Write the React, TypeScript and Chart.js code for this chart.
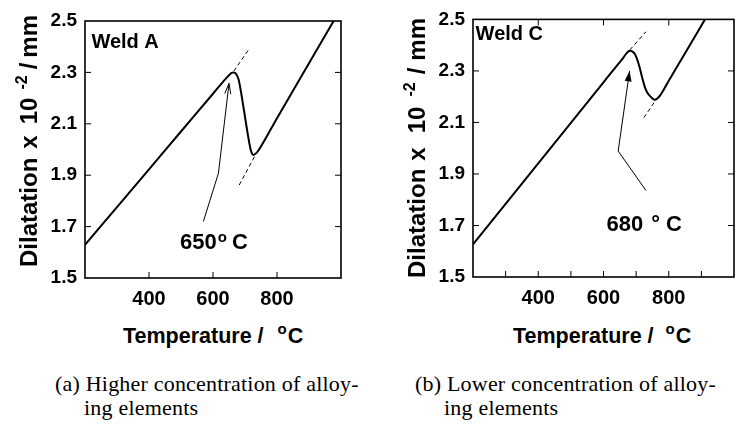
import React, { useEffect, useRef } from 'react';
import { Chart, registerables } from 'chart.js';

Chart.register(...registerables);

const SANS = "'Liberation Sans', Arial, Helvetica, sans-serif";
const SERIF = "'Liberation Serif', 'Times New Roman', serif";

// Temperature axis (°C) and dilatation axis (×10⁻² mm)
const tempMin = 200;
const tempMax = 1000;
const tempLabels = [400, 600, 800];
const dilMin = 1.5;
const dilMax = 2.5;
const dilStep = 0.2;

// Weld A: heating curve
const weldATemp = [200, 300, 400, 500, 600, 640, 650, 658, 665, 672, 680, 690, 700, 710, 718, 726, 736, 746, 800, 900, 977];
const weldADil = [1.629, 1.776, 1.923, 2.07, 2.217, 2.276, 2.289, 2.298, 2.3, 2.294, 2.272, 2.205, 2.127, 2.05, 1.998, 1.979, 1.987, 2.004, 2.122, 2.336, 2.5];
// Weld A: tangents extended from the linear parts
const weldAUpperTanT = [665, 710];
const weldAUpperTanD = [2.305, 2.386];
const weldALowerTanT = [682, 731];
const weldALowerTanD = [1.862, 1.975];
// Weld A: pointer to the transformation start
const weldAStart = 650;
const weldAArrowT = [570, 617, weldAStart];
const weldAArrowD = [1.72, 1.908, 2.257];

// Weld C: heating curve
const weldCTemp = [200, 300, 400, 500, 600, 640, 660, 671, 681, 690, 697, 704, 711, 719, 727, 735, 742, 750, 757, 765, 773, 800, 850, 911];
const weldCDil = [1.627, 1.784, 1.941, 2.098, 2.256, 2.319, 2.35, 2.369, 2.378, 2.374, 2.364, 2.342, 2.312, 2.272, 2.236, 2.214, 2.203, 2.193, 2.188, 2.193, 2.204, 2.262, 2.369, 2.5];
const weldCUpperTanT = [681, 730];
const weldCUpperTanD = [2.382, 2.452];
const weldCLowerTanT = [724, 763];
const weldCLowerTanD = [2.119, 2.192];
const weldCStart = 680;
const weldCArrowT = [730, 645, weldCStart];
const weldCArrowD = [1.836, 1.989, 2.3];

const zip = (xs: number[], ys: number[]) => xs.map((x, i) => ({ x, y: ys[i] }));

type PanelSpec = {
  name: string;
  temp: number[];
  dil: number[];
  upT: number[];
  upD: number[];
  loT: number[];
  loD: number[];
  arT: number[];
  arD: number[];
  filledHead: boolean;
  startTemp: number;
  tempLabel: { x: number; y: number; gap1: number; gap2: number; degree: string };
  nameAt: { x: number; y: number };
  bottomTicks: number[];
  topTicks: number[];
  width: number;
  height: number;
  padTop: number;
  padRight: number;
  yAxisW: number;
  xAxisH: number;
};

// Frame, inward tick marks, arrow head and text annotations
const decorPlugin = {
  id: 'decor',
  afterDatasetsDraw(chart: any, _args: any, opts: any) {
    const { ctx, chartArea: a } = chart;
    const xs = chart.scales.x;
    const ys = chart.scales.y;
    const spec: PanelSpec = opts.spec;
    ctx.save();
    ctx.strokeStyle = '#000';
    ctx.fillStyle = '#000';

    ctx.lineWidth = 1.6;
    ctx.strokeRect(a.left, a.top, a.right - a.left, a.bottom - a.top);

    const L = 6;
    ctx.lineWidth = 1;
    ctx.beginPath();
    for (const v of spec.bottomTicks) {
      const px = xs.getPixelForValue(v);
      ctx.moveTo(px, a.bottom);
      ctx.lineTo(px, a.bottom - L);
    }
    for (const v of spec.topTicks) {
      const px = xs.getPixelForValue(v);
      ctx.moveTo(px, a.top);
      ctx.lineTo(px, a.top + L);
    }
    for (let v = dilMin + dilStep; v < dilMax - 1e-6; v += dilStep) {
      const py = ys.getPixelForValue(v);
      ctx.moveTo(a.left, py);
      ctx.lineTo(a.left + L, py);
      ctx.moveTo(a.right, py);
      ctx.lineTo(a.right - L, py);
    }
    ctx.stroke();

    // arrow head at the end of the pointer line
    const n = spec.arT.length;
    const tx = xs.getPixelForValue(spec.arT[n - 1]);
    const ty = ys.getPixelForValue(spec.arD[n - 1]);
    const fx = xs.getPixelForValue(spec.arT[n - 2]);
    const fy = ys.getPixelForValue(spec.arD[n - 2]);
    const ang = Math.atan2(ty - fy, tx - fx);
    const len = 11;
    const hw = spec.filledHead ? 0.32 : 0.28;
    const p1 = [tx - len * Math.cos(ang - hw), ty - len * Math.sin(ang - hw)];
    const p2 = [tx - len * Math.cos(ang + hw), ty - len * Math.sin(ang + hw)];
    ctx.beginPath();
    if (spec.filledHead) {
      ctx.moveTo(tx, ty);
      ctx.lineTo(p1[0], p1[1]);
      ctx.lineTo(p2[0], p2[1]);
      ctx.closePath();
      ctx.fill();
    } else {
      ctx.moveTo(p1[0], p1[1]);
      ctx.lineTo(tx, ty);
      ctx.lineTo(p2[0], p2[1]);
      ctx.stroke();
    }

    // weld name
    ctx.textBaseline = 'alphabetic';
    ctx.textAlign = 'left';
    ctx.font = `bold 20px ${SANS}`;
    ctx.fillText(spec.name, xs.getPixelForValue(spec.nameAt.x), ys.getPixelForValue(spec.nameAt.y));

    // transformation start temperature
    const tl = spec.tempLabel;
    let lx = xs.getPixelForValue(tl.x);
    const ly = ys.getPixelForValue(tl.y);
    ctx.font = `bold 22px ${SANS}`;
    const num = String(spec.startTemp);
    ctx.fillText(num, lx, ly);
    lx += ctx.measureText(num).width + tl.gap1;
    if (tl.degree === 'o') {
      ctx.font = `bold 15px ${SANS}`;
      ctx.fillText('o', lx, ly - 7);
      lx += ctx.measureText('o').width + tl.gap2;
    } else {
      ctx.font = `bold 22px ${SANS}`;
      ctx.fillText('°', lx, ly);
      lx += ctx.measureText('°').width + tl.gap2;
    }
    ctx.font = `bold 22px ${SANS}`;
    ctx.fillText('C', lx, ly);
    ctx.restore();
  },
};

function Panel({ spec, left }: { spec: PanelSpec; left: number }) {
  const ref = useRef<HTMLCanvasElement | null>(null);
  useEffect(() => {
    if (!ref.current) return;
    const lineDs = (xs: number[], ys: number[], extra: any) => ({
      data: zip(xs, ys),
      borderColor: '#000',
      backgroundColor: '#000',
      pointRadius: 0,
      fill: false,
      ...extra,
    });
    const tickFont = (size: number) => ({ family: SANS, size, weight: 'bold' as const });
    const chart = new Chart(ref.current, {
      type: 'line',
      data: {
        datasets: [
          lineDs(spec.temp, spec.dil, { borderWidth: 2, cubicInterpolationMode: 'monotone' }),
          lineDs(spec.upT, spec.upD, { borderWidth: 1, borderDash: [4, 3], tension: 0 }),
          lineDs(spec.loT, spec.loD, { borderWidth: 1, borderDash: [4, 3], tension: 0 }),
          lineDs(spec.arT, spec.arD, { borderWidth: 1, tension: 0 }),
        ],
      },
      options: {
        responsive: false,
        animation: false,
        devicePixelRatio: 1,
        events: [],
        layout: { padding: { left: 0, top: spec.padTop, right: spec.padRight, bottom: 0 } },
        plugins: {
          legend: { display: false },
          tooltip: { enabled: false },
          decor: { spec },
        } as any,
        scales: {
          x: {
            type: 'linear',
            min: tempMin,
            max: tempMax,
            afterFit: (s: any) => {
              s.height = spec.xAxisH;
            },
            grid: { display: false, drawTicks: false },
            border: { display: false },
            ticks: {
              stepSize: 100,
              autoSkip: false,
              maxRotation: 0,
              padding: 9,
              color: '#000',
              font: tickFont(20),
              callback: (v: any) => (tempLabels.includes(Number(v)) ? String(v) : ''),
            },
          },
          y: {
            type: 'linear',
            min: dilMin,
            max: dilMax,
            afterFit: (s: any) => {
              s.width = spec.yAxisW;
            },
            grid: { display: false, drawTicks: false },
            border: { display: false },
            ticks: {
              stepSize: dilStep,
              padding: 8,
              color: '#000',
              font: tickFont(19),
              callback: (v: any) => Number(v).toFixed(1),
            },
          },
        },
      },
      plugins: [decorPlugin as any],
    });
    return () => chart.destroy();
  }, [spec]);
  return (
    <canvas
      ref={ref}
      width={spec.width}
      height={spec.height}
      style={{ position: 'absolute', left, top: 0, width: spec.width, height: spec.height }}
    />
  );
}

const specA: PanelSpec = {
  name: 'Weld A',
  temp: weldATemp,
  dil: weldADil,
  upT: weldAUpperTanT,
  upD: weldAUpperTanD,
  loT: weldALowerTanT,
  loD: weldALowerTanD,
  arT: weldAArrowT,
  arD: weldAArrowD,
  filledHead: false,
  startTemp: weldAStart,
  tempLabel: { x: 497, y: 1.612, gap1: 1, gap2: 5, degree: 'o' },
  nameAt: { x: 220, y: 2.395 },
  bottomTicks: [400, 600, 800],
  topTicks: [],
  width: 370,
  height: 312,
  padTop: 21,
  padRight: 29,
  yAxisW: 85,
  xAxisH: 34,
};

const specC: PanelSpec = {
  name: 'Weld C',
  temp: weldCTemp,
  dil: weldCDil,
  upT: weldCUpperTanT,
  upD: weldCUpperTanD,
  loT: weldCLowerTanT,
  loD: weldCLowerTanD,
  arT: weldCArrowT,
  arD: weldCArrowD,
  filledHead: true,
  startTemp: weldCStart,
  tempLabel: { x: 609, y: 1.68, gap1: 8, gap2: 6, degree: '°' },
  nameAt: { x: 208, y: 2.42 },
  bottomTicks: [300, 400, 500, 600, 700, 800, 900],
  topTicks: [400, 600, 800],
  width: 373,
  height: 312,
  padTop: 14,
  padRight: 9,
  yAxisW: 103,
  xAxisH: 35,
};

const boldSans: React.CSSProperties = { fontFamily: SANS, fontWeight: 'bold', color: '#000' };

function YTitle({ cx, cy, gaps }: { cx: number; cy: number; gaps: number[] }) {
  return (
    <div
      style={{
        ...boldSans,
        position: 'absolute',
        left: cx - 150,
        top: cy - 15,
        width: 300,
        height: 30,
        lineHeight: '30px',
        fontSize: 24,
        transform: 'rotate(-90deg)',
        display: 'flex',
        justifyContent: 'center',
        alignItems: 'baseline',
        whiteSpace: 'nowrap',
      }}
    >
      <span style={{ marginRight: gaps[0] }}>Dilatation</span>
      <span style={{ marginRight: gaps[1] }}>x</span>
      <span style={{ marginRight: gaps[2] }}>10</span>
      <span style={{ fontSize: 16, position: 'relative', top: -10, marginRight: gaps[3] }}>-2</span>
      <span style={{ marginRight: gaps[4] }}>/</span>
      <span>mm</span>
    </div>
  );
}

function XTitle({ left, top, gap }: { left: number; top: number; gap: number }) {
  return (
    <div
      style={{
        ...boldSans,
        position: 'absolute',
        left,
        top,
        fontSize: 21.5,
        lineHeight: '24px',
        whiteSpace: 'nowrap',
      }}
    >
      <span>Temperature /</span>
      <span style={{ fontSize: 15, position: 'relative', top: -9, marginLeft: gap }}>o</span>
      <span style={{ marginLeft: 1 }}>C</span>
    </div>
  );
}

function Caption({ left, top, tag, text }: { left: number; top: number; tag: string; text: string }) {
  const base: React.CSSProperties = {
    position: 'absolute',
    fontFamily: SERIF,
    fontSize: 22,
    letterSpacing: 0.2,
    lineHeight: '24px',
    color: '#000',
    whiteSpace: 'nowrap',
  };
  return (
    <>
      <div style={{ ...base, left, top }}>
        {tag} {text}
      </div>
      <div style={{ ...base, left: left + 29, top: top + 24 }}>ing elements</div>
    </>
  );
}

export default function App() {
  return (
    <div
      style={{
        position: 'absolute',
        left: 0,
        top: 0,
        width: 743,
        height: 439,
        background: '#fff',
        overflow: 'hidden',
      }}
    >
      <Panel spec={specA} left={0} />
      <Panel spec={specC} left={370} />
      <YTitle cx={29} cy={141} gaps={[9, 11, 8, 6, 5]} />
      <YTitle cx={417} cy={148} gaps={[8, 14, 10, 8, 7]} />
      <XTitle left={123} top={324} gap={14} />
      <XTitle left={513} top={324} gap={12} />
      <Caption left={55} top={372} tag="(a)" text="Higher concentration of alloy-" />
      <Caption left={415} top={372} tag="(b)" text="Lower concentration of alloy-" />
    </div>
  );
}
